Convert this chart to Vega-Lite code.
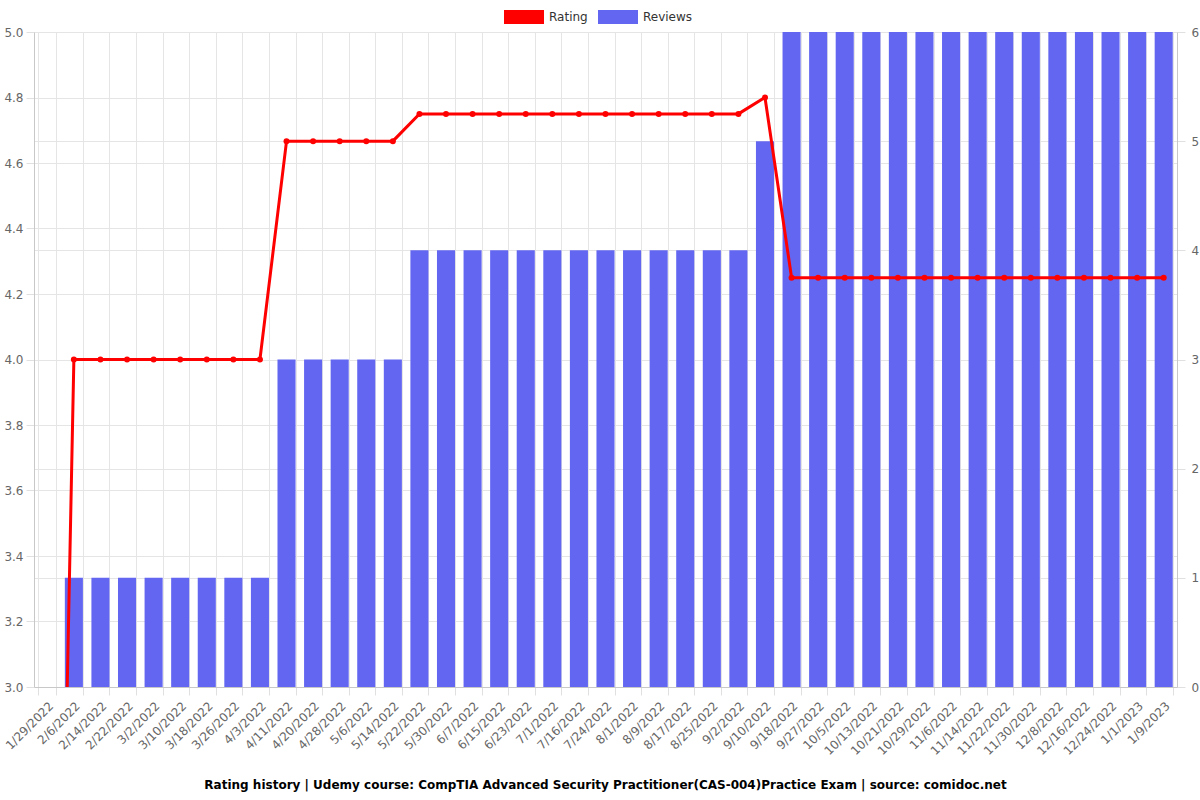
{
  "$schema": "https://vega.github.io/schema/vega-lite/v6.json",
  "width": 1143,
  "height": 655,
  "autosize": {"type": "none"},
  "padding": {"left": 34, "top": 32, "right": 23, "bottom": 113},
  "background": "white",
  "config": {
    "font": "DejaVu Sans",
    "view": {"stroke": null},
    "axis": {"labelFont": "DejaVu Sans", "labelFontSize": 12, "labelColor": "#666666", "gridColor": "#e5e5e5", "domainColor": "#c8c8c8", "tickColor": "#e0e0e0", "tickSize": 8, "titleFontSize": 12}
  },
  "title": {"text": "Rating history | Udemy course: CompTIA Advanced Security Practitioner(CAS-004)Practice Exam | source: comidoc.net", "orient": "bottom", "anchor": "middle", "fontSize": 12, "fontWeight": "bold", "font": "DejaVu Sans", "color": "#000000", "offset": 23},
  "data": {"values": [
    {"date": "1/29/2022", "rating": 0, "reviews": 0},
    {"date": "2/6/2022", "rating": 4.0, "reviews": 1},
    {"date": "2/14/2022", "rating": 4.0, "reviews": 1},
    {"date": "2/22/2022", "rating": 4.0, "reviews": 1},
    {"date": "3/2/2022", "rating": 4.0, "reviews": 1},
    {"date": "3/10/2022", "rating": 4.0, "reviews": 1},
    {"date": "3/18/2022", "rating": 4.0, "reviews": 1},
    {"date": "3/26/2022", "rating": 4.0, "reviews": 1},
    {"date": "4/3/2022", "rating": 4.0, "reviews": 1},
    {"date": "4/11/2022", "rating": 4.6667, "reviews": 3},
    {"date": "4/20/2022", "rating": 4.6667, "reviews": 3},
    {"date": "4/28/2022", "rating": 4.6667, "reviews": 3},
    {"date": "5/6/2022", "rating": 4.6667, "reviews": 3},
    {"date": "5/14/2022", "rating": 4.6667, "reviews": 3},
    {"date": "5/22/2022", "rating": 4.75, "reviews": 4},
    {"date": "5/30/2022", "rating": 4.75, "reviews": 4},
    {"date": "6/7/2022", "rating": 4.75, "reviews": 4},
    {"date": "6/15/2022", "rating": 4.75, "reviews": 4},
    {"date": "6/23/2022", "rating": 4.75, "reviews": 4},
    {"date": "7/1/2022", "rating": 4.75, "reviews": 4},
    {"date": "7/16/2022", "rating": 4.75, "reviews": 4},
    {"date": "7/24/2022", "rating": 4.75, "reviews": 4},
    {"date": "8/1/2022", "rating": 4.75, "reviews": 4},
    {"date": "8/9/2022", "rating": 4.75, "reviews": 4},
    {"date": "8/17/2022", "rating": 4.75, "reviews": 4},
    {"date": "8/25/2022", "rating": 4.75, "reviews": 4},
    {"date": "9/2/2022", "rating": 4.75, "reviews": 4},
    {"date": "9/10/2022", "rating": 4.8, "reviews": 5},
    {"date": "9/18/2022", "rating": 4.25, "reviews": 6},
    {"date": "9/27/2022", "rating": 4.25, "reviews": 6},
    {"date": "10/5/2022", "rating": 4.25, "reviews": 6},
    {"date": "10/13/2022", "rating": 4.25, "reviews": 6},
    {"date": "10/21/2022", "rating": 4.25, "reviews": 6},
    {"date": "10/29/2022", "rating": 4.25, "reviews": 6},
    {"date": "11/6/2022", "rating": 4.25, "reviews": 6},
    {"date": "11/14/2022", "rating": 4.25, "reviews": 6},
    {"date": "11/22/2022", "rating": 4.25, "reviews": 6},
    {"date": "11/30/2022", "rating": 4.25, "reviews": 6},
    {"date": "12/8/2022", "rating": 4.25, "reviews": 6},
    {"date": "12/16/2022", "rating": 4.25, "reviews": 6},
    {"date": "12/24/2022", "rating": 4.25, "reviews": 6},
    {"date": "1/1/2023", "rating": 4.25, "reviews": 6},
    {"date": "1/9/2023", "rating": 4.25, "reviews": 6}
  ]},
  "encoding": {
    "x": {
      "field": "date", "type": "nominal", "sort": null,
      "scale": {"paddingInner": 0.32, "paddingOuter": 0.16},
      "axis": {"title": null, "labelAngle": -45, "tickBand": "extent", "grid": true, "labelPadding": 5}
    }
  },
  "layer": [
    {
      "mark": {"type": "bar", "color": "#6366f1"},
      "encoding": {
        "y": {"field": "reviews", "type": "quantitative", "scale": {"domain": [0, 6], "nice": false},
          "axis": {"orient": "right", "title": null, "values": [0, 1, 2, 3, 4, 5, 6], "grid": true, "labelPadding": 6}},
        "color": {"datum": "Reviews", "type": "nominal",
          "scale": {"domain": ["Rating", "Reviews"], "range": ["#ff0000", "#6366f1"]},
          "legend": {"title": null, "orient": "none", "direction": "horizontal", "legendX": 470, "legendY": -35,
            "symbolType": "M-1,-0.35H1V0.35H-1Z", "symbolSize": 1600, "symbolOpacity": 1, "symbolStrokeWidth": 0,
            "labelFontSize": 12, "labelColor": "#333333", "labelFont": "DejaVu Sans", "columnPadding": 10, "labelOffset": 5}}
      }
    },
    {
      "mark": {"type": "line", "color": "#ff0000", "strokeWidth": 3, "interpolate": "linear", "clip": true,
        "point": {"filled": true, "size": 36, "color": "#ff0000"}},
      "encoding": {
        "y": {"field": "rating", "type": "quantitative", "scale": {"domain": [3, 5], "nice": false, "zero": false},
          "axis": {"orient": "left", "title": null, "values": [3.0, 3.2, 3.4, 3.6, 3.8, 4.0, 4.2, 4.4, 4.6, 4.8, 5.0], "format": ".1f", "grid": true, "labelPadding": 3}},
        "color": {"datum": "Rating", "type": "nominal"}
      }
    }
  ],
  "resolve": {"scale": {"y": "independent"}}
}
